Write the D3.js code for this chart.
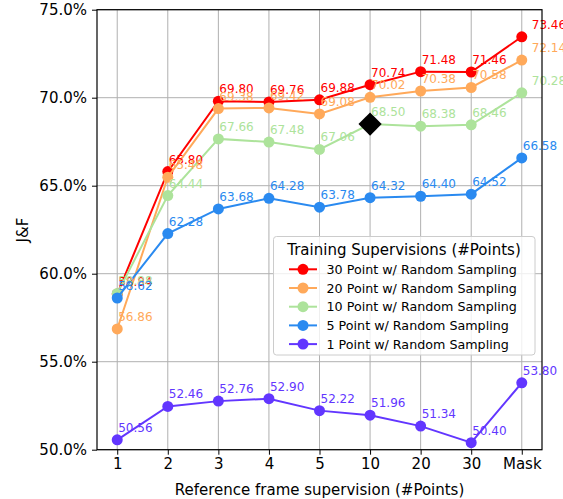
<!DOCTYPE html>
<html><head><meta charset="utf-8">
<script src="https://cdn.jsdelivr.net/npm/d3@7"></script>
<style>body{margin:0;background:#fff}svg{font-family:"DejaVu Sans",sans-serif}</style>
</head><body>
<script>
const categories = ["1","2","3","4","5","10","20","30","Mask"];
const seriesNames = ["30 Point w/ Random Sampling","20 Point w/ Random Sampling","10 Point w/ Random Sampling","5 Point w/ Random Sampling","1 Point w/ Random Sampling"];
const seriesColors = ["#ff0000","#ffa95a","#ade39b","#2a8af0","#6236ff"];
const red30 = [58.84,65.80,69.80,69.76,69.88,70.74,71.48,71.46,73.46];
const orange20 = [56.86,65.48,69.38,69.42,69.08,70.02,70.38,70.58,72.14];
const green10 = [58.88,64.44,67.66,67.48,67.06,68.50,68.38,68.46,70.28];
const blue5 = [58.62,62.28,63.68,64.28,63.78,64.32,64.40,64.52,66.58];
const purple1 = [50.56,52.46,52.76,52.90,52.22,51.96,51.34,50.40,53.80];
const seriesValues = [red30, orange20, green10, blue5, purple1];
const yTicks = [50,55,60,65,70,75];
const diamondPoint = {cat:"10", value:68.50};
const legendTitle = "Training Supervisions (#Points)";
const xTitle = "Reference frame supervision (#Points)";
const yTitle = "J&F";

const W=563,H=499;
const L=97,R=542,T=9.7,B=449.7;
const svg=d3.select("body").append("svg").attr("width",W).attr("height",H);
const x=d3.scalePoint().domain(categories).range([L,R]).padding(0.4);
const y=d3.scaleLinear().domain([50,75]).range([B,T]);

// grid
const g=svg.append("g");
g.selectAll(".vg").data(categories).enter().append("line")
 .attr("x1",d=>x(d)).attr("x2",d=>x(d)).attr("y1",T).attr("y2",B)
 .attr("stroke","#b0b0b0").attr("stroke-width",1);
g.selectAll(".hg").data(yTicks).enter().append("line")
 .attr("x1",L).attr("x2",R).attr("y1",d=>y(d)).attr("y2",d=>y(d))
 .attr("stroke","#b0b0b0").attr("stroke-width",1);

// axes
const xa=svg.append("g").attr("transform",`translate(0,${B})`)
 .call(d3.axisBottom(x).tickSize(5).tickPadding(4));
xa.select(".domain").remove();
xa.selectAll("text").attr("font-size",15).attr("fill","#000").attr("font-family","DejaVu Sans");
const ya=svg.append("g").attr("transform",`translate(${L},0)`)
 .call(d3.axisLeft(y).tickValues(yTicks).tickFormat(d=>d.toFixed(1)+"%").tickSize(5).tickPadding(5));
ya.select(".domain").remove();
ya.selectAll("text").attr("font-size",15).attr("fill","#000").attr("font-family","DejaVu Sans");

// series
const line=d3.line().x((d,i)=>x(categories[i])).y(d=>y(d));
seriesValues.forEach((vals,si)=>{
  const c=seriesColors[si];
  svg.append("path").datum(vals).attr("d",line).attr("fill","none")
    .attr("stroke",c).attr("stroke-width",2);
  svg.append("g").selectAll("circle").data(vals).enter().append("circle")
    .attr("cx",(d,i)=>x(categories[i])).attr("cy",d=>y(d)).attr("r",5.5).attr("fill",c);
});
// diamond
svg.append("rect")
  .attr("x",-8.2).attr("y",-8.2).attr("width",16.4).attr("height",16.4)
  .attr("fill","#000")
  .attr("transform",`translate(${x(diamondPoint.cat)},${y(diamondPoint.value)}) rotate(45)`);
// value labels
seriesValues.forEach((vals,si)=>{
  const c=seriesColors[si];
  svg.append("g").selectAll("text").data(vals).enter().append("text")
    .attr("x",(d,i)=>x(categories[i])+1+((categories[i]==="Mask"&&si<3)?9:0))
    .attr("y",d=>y(d)-8)
    .attr("font-size",12).attr("fill",c).text(d=>d.toFixed(2));
});

// frame
svg.append("rect").attr("x",L).attr("y",T).attr("width",R-L).attr("height",B-T)
 .attr("fill","none").attr("stroke","#000").attr("stroke-width",1.2);

// axis titles
svg.append("text").attr("x",(L+R)/2).attr("y",495).attr("text-anchor","middle")
 .attr("font-size",15).text(xTitle);
svg.append("text").attr("transform",`translate(28,230) rotate(-90)`).attr("text-anchor","middle")
 .attr("font-size",15).text(yTitle);

// legend
const lg=svg.append("g");
lg.append("rect").attr("x",273.5).attr("y",236.5).attr("width",261.5).attr("height",118.5)
 .attr("rx",3).attr("fill","#fff").attr("fill-opacity",0.8).attr("stroke","#cccccc");
lg.append("text").attr("x",404).attr("y",254.5).attr("text-anchor","middle")
 .attr("font-size",15).text(legendTitle);
seriesNames.forEach((n,i)=>{
  const yy=269.3+i*18.7;
  lg.append("line").attr("x1",289).attr("x2",317).attr("y1",yy).attr("y2",yy)
    .attr("stroke",seriesColors[i]).attr("stroke-width",2);
  lg.append("circle").attr("cx",303).attr("cy",yy).attr("r",5.5).attr("fill",seriesColors[i]);
  lg.append("text").attr("x",326.5).attr("y",yy+4.5).attr("font-size",12.7).text(n);
});
</script>
</body></html>
